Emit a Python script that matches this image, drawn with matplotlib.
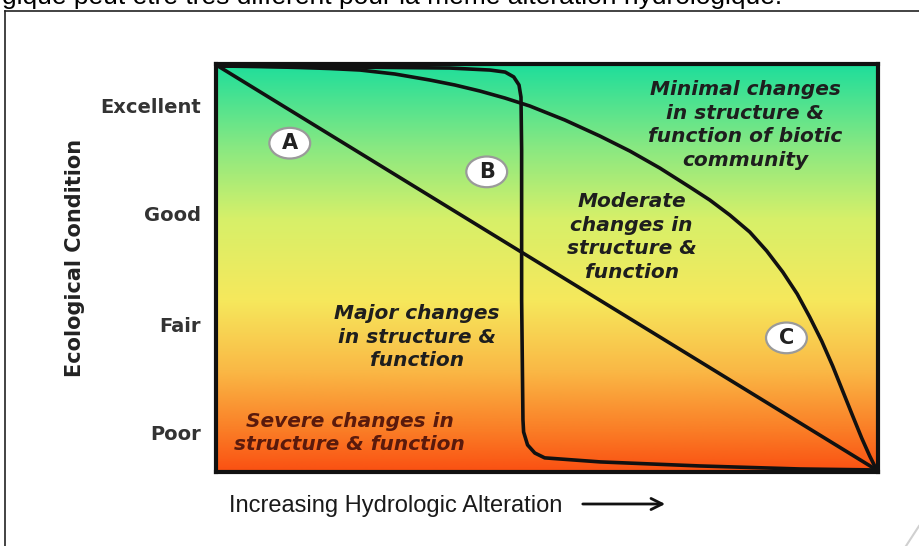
import numpy as np
import matplotlib
matplotlib.use("Agg")
from matplotlib import pyplot as plt
from matplotlib.colors import LinearSegmentedColormap
from matplotlib.lines import Line2D
from matplotlib.patches import Ellipse, FancyArrowPatch

# condition levels (0 = worst, 100 = best)
levels = ["Poor", "Fair", "Good", "Excellent"]
level_pos = [9.2, 35.9, 63.6, 90.3]

# curve A: linear decline
a_x = [0, 100]
a_y = [100, 0]

# curve B: threshold response
b_x = [0, 20.0, 35.2, 41.3, 43.6, 44.9, 45.7, 46.0, 46.1, 46.1, 46.3, 46.4,
       47.0, 48.1, 49.6, 58.0, 73.1, 88.3, 100]
b_y = [100, 99.75, 99.5, 99.0, 98.5, 97.3, 95.3, 92.3, 79.2, 42.1, 12.4, 9.4,
       6.2, 4.2, 3.0, 2.0, 1.0, 0.25, 0]

# curve C: resistant, late decline
c_x = [0, 6.37, 12.44, 16.99, 21.55, 26.86, 32.17, 35.96, 39.76, 43.55, 47.34,
       52.66, 57.97, 62.52, 67.07, 71.62, 74.66, 77.69, 80.73, 83.31, 85.74,
       87.94, 89.83, 91.65, 93.32, 94.84, 96.36, 97.72, 98.94, 100]
c_y = [100, 99.88, 99.63, 99.38, 99.01, 98.02, 96.53, 95.30, 93.81, 92.08, 90.10,
       86.63, 82.67, 78.96, 74.75, 70.05, 66.83, 63.12, 58.91, 54.21, 49.01,
       43.56, 37.87, 31.93, 25.74, 19.55, 13.37, 7.92, 3.47, 0]

W, H = 919, 546
fig = plt.figure(figsize=(W / 100, H / 100), dpi=100)
fig.patch.set_facecolor("white")

def fx(px):
    return px / W

def fy(py):
    return 1 - py / H

ax = fig.add_axes([fx(216), fy(472), (878 - 216) / W, (472 - 64) / H])
ax.set_xlim(-0.3, 100.2)
ax.set_ylim(-0.5, 100.5)

# background gradient, orange-red at the bottom to green at the top
grad = LinearSegmentedColormap.from_list("cond", [
    (0.00, (250/255, 80/255, 18/255)),
    (0.10, (250/255, 125/255, 38/255)),
    (0.25, (250/255, 185/255, 70/255)),
    (0.42, (246/255, 232/255, 92/255)),
    (0.62, (215/255, 240/255, 105/255)),
    (0.80, (135/255, 232/255, 130/255)),
    (1.00, (30/255, 222/255, 155/255)),
])
ax.imshow(np.linspace(0, 1, 256).reshape(-1, 1), cmap=grad, origin="lower",
          extent=[-0.3, 100.2, -0.5, 100.5], aspect="auto", zorder=0)

for s in ax.spines.values():
    s.set_linewidth(3)
    s.set_color("#111111")

lw = 2.6
ax.plot(a_x, a_y, color="#111111", lw=lw, solid_capstyle="round", zorder=3)
ax.plot(b_x, b_y, color="#111111", lw=lw, solid_joinstyle="round", zorder=3)
ax.plot(c_x, c_y, color="#111111", lw=lw, solid_joinstyle="round", zorder=3)

ax.set_xticks([])
ax.set_yticks(level_pos, levels)
ax.tick_params(axis="y", length=0, pad=11, labelsize=14, labelcolor="#333333")
for t in ax.get_yticklabels():
    t.set_fontweight("bold")

# region descriptions
txt = dict(fontsize=14.5, fontweight="bold", fontstyle="italic", ha="center",
           va="center", color="#1e1e1e", linespacing=1.3, zorder=4)
ax.text(80.0, 85.4, "Minimal changes\nin structure &\nfunction of biotic\ncommunity", **txt)
ax.text(62.8, 57.7, "Moderate\nchanges in\nstructure &\nfunction", **txt)
ax.text(30.2, 32.9, "Major changes\nin structure &\nfunction", **txt)
txt["color"] = "#5a1a0c"
ax.text(20.0, 9.2, "Severe changes in\nstructure & function", **txt)

# curve markers (slightly wide ellipses)
for lab, x, y in [("A", 10.9, 80.9), ("B", 40.8, 73.8), ("C", 86.3, 32.7)]:
    ax.add_patch(Ellipse((x, y), 6.2, 7.6, fc="white", ec="#9a9a9a", lw=1.6, zorder=5))
    ax.text(x, y, lab, fontsize=15, fontweight="bold", ha="center", va="center",
            color="#222222", zorder=6)

fig.text(fx(75), fy(258), "Ecological Condition", rotation=90, fontsize=15,
         fontweight="bold", color="#222222", ha="center", va="center")

fig.text(fx(229), fy(512), "Increasing Hydrologic Alteration", fontsize=17,
         family="Liberation Sans", color="#1a1a1a", ha="left", va="baseline")
fig.add_artist(FancyArrowPatch(
    (fx(580), fy(504)), (fx(668), fy(504)), transform=fig.transFigure,
    arrowstyle="->", mutation_scale=20, lw=2, color="#111111"))

# cut-off caption from the page above and the page frame
fig.text(fx(782), fy(4), "gique peut être très différent pour la même altération hydrologique.",
         fontsize=19, family="Liberation Sans", color="black", ha="right", va="baseline")
fig.add_artist(Line2D([fx(5), fx(919)], [fy(11), fy(11)], color="#222222", lw=1.2))
fig.add_artist(Line2D([fx(5), fx(5)], [fy(11), fy(546)], color="#222222", lw=1.2))
fig.add_artist(Line2D([fx(906), fx(919)], [fy(546), fy(526)], color="#d0d0d0", lw=1.5))

fig.savefig("out.png", dpi=100)
